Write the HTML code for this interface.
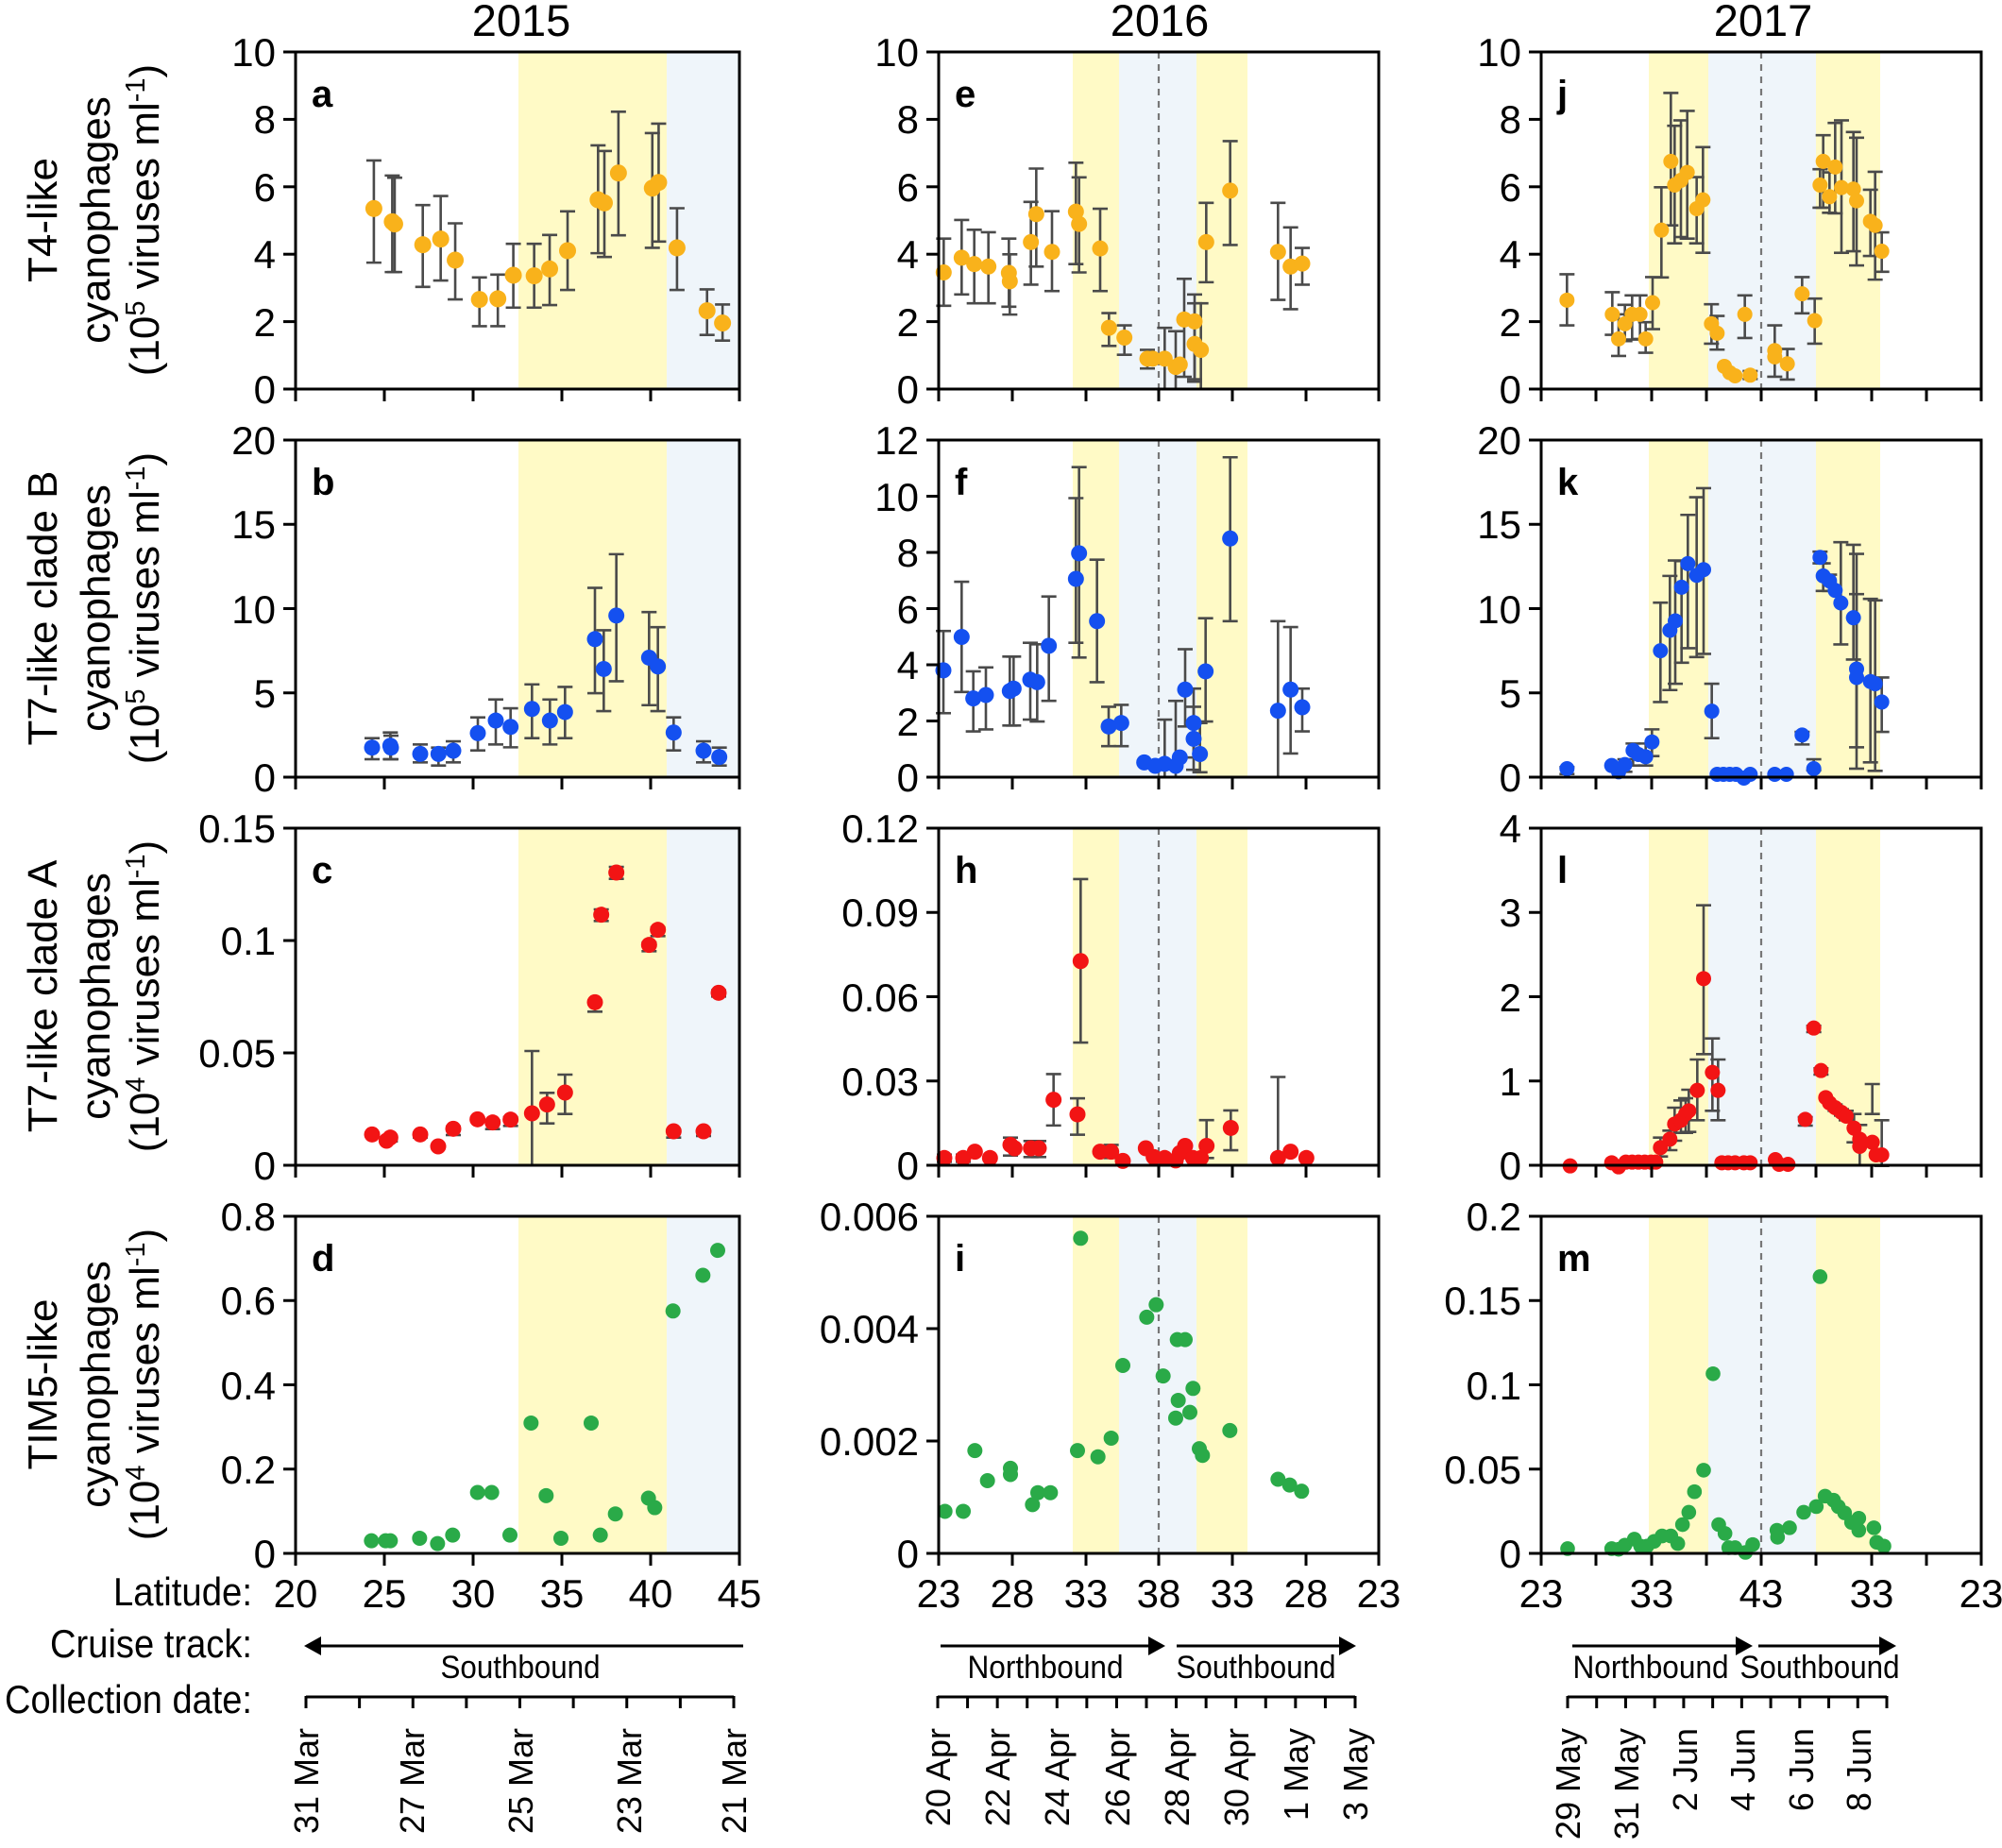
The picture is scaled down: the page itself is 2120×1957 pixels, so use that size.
<!DOCTYPE html>
<html><head><meta charset="utf-8"><style>
html,body{margin:0;padding:0;background:#fff}
svg{display:block;font-family:"Liberation Sans",Arial,sans-serif}
</style></head><body>
<svg id="s" xmlns="http://www.w3.org/2000/svg" width="2120" height="1957" viewBox="0 0 2120 1957">
<rect width="2120" height="1957" fill="#fff"/>
<g id="bg"></g>
<g id="data"></g>
<g id="ax"></g>
<g font-size="47" text-anchor="middle" fill="#000">
<text x="552" y="38">2015</text><text x="1228" y="38">2016</text><text x="1867" y="38">2017</text>
</g>
<g font-size="40" font-weight="bold" fill="#000">
<text x="330" y="113">a</text><text x="330" y="524">b</text><text x="330" y="935">c</text><text x="330" y="1346">d</text>
<text x="1011" y="113">e</text><text x="1011" y="524">f</text><text x="1011" y="935">h</text><text x="1011" y="1346">i</text>
<text x="1649" y="113">j</text><text x="1649" y="524">k</text><text x="1649" y="935">l</text><text x="1649" y="1346">m</text>
</g>
<g font-size="42" text-anchor="end" fill="#000">
<text x="292" y="427">0</text><text x="292" y="356">2</text><text x="292" y="284">4</text><text x="292" y="213">6</text><text x="292" y="141">8</text><text x="292" y="70">10</text>
<text x="973" y="427">0</text><text x="973" y="356">2</text><text x="973" y="284">4</text><text x="973" y="213">6</text><text x="973" y="141">8</text><text x="973" y="70">10</text>
<text x="1611" y="427">0</text><text x="1611" y="356">2</text><text x="1611" y="284">4</text><text x="1611" y="213">6</text><text x="1611" y="141">8</text><text x="1611" y="70">10</text>
<text x="292" y="838">0</text><text x="292" y="749">5</text><text x="292" y="660">10</text><text x="292" y="570">15</text><text x="292" y="481">20</text>
<text x="973" y="838">0</text><text x="973" y="779">2</text><text x="973" y="719">4</text><text x="973" y="660">6</text><text x="973" y="600">8</text><text x="973" y="541">10</text><text x="973" y="481">12</text>
<text x="1611" y="838">0</text><text x="1611" y="749">5</text><text x="1611" y="660">10</text><text x="1611" y="570">15</text><text x="1611" y="481">20</text>
<text x="292" y="1249">0</text><text x="292" y="1130">0.05</text><text x="292" y="1011">0.1</text><text x="292" y="892">0.15</text>
<text x="973" y="1249">0</text><text x="973" y="1160">0.03</text><text x="973" y="1071">0.06</text><text x="973" y="981">0.09</text><text x="973" y="892">0.12</text>
<text x="1611" y="1249">0</text><text x="1611" y="1160">1</text><text x="1611" y="1071">2</text><text x="1611" y="981">3</text><text x="1611" y="892">4</text>
<text x="292" y="1660">0</text><text x="292" y="1571">0.2</text><text x="292" y="1482">0.4</text><text x="292" y="1392">0.6</text><text x="292" y="1303">0.8</text>
<text x="973" y="1660">0</text><text x="973" y="1541">0.002</text><text x="973" y="1422">0.004</text><text x="973" y="1303">0.006</text>
<text x="1611" y="1660">0</text><text x="1611" y="1571">0.05</text><text x="1611" y="1482">0.1</text><text x="1611" y="1392">0.15</text><text x="1611" y="1303">0.2</text>
</g>
<g font-size="44" text-anchor="middle" fill="#000">
<g transform="translate(0,233) rotate(-90)"><text x="0" y="60">T4-like</text><text x="0" y="116">cyanophages</text><text x="0" y="168">(10<tspan font-size="29" dy="-15">5</tspan><tspan dy="15"> viruses ml</tspan><tspan font-size="29" dy="-15">-1</tspan><tspan dy="15">)</tspan></text></g>
<g transform="translate(0,644) rotate(-90)"><text x="0" y="60">T7-like clade B</text><text x="0" y="116">cyanophages</text><text x="0" y="168">(10<tspan font-size="29" dy="-15">5</tspan><tspan dy="15"> viruses ml</tspan><tspan font-size="29" dy="-15">-1</tspan><tspan dy="15">)</tspan></text></g>
<g transform="translate(0,1055) rotate(-90)"><text x="0" y="60">T7-like clade A</text><text x="0" y="116">cyanophages</text><text x="0" y="168">(10<tspan font-size="29" dy="-15">4</tspan><tspan dy="15"> viruses ml</tspan><tspan font-size="29" dy="-15">-1</tspan><tspan dy="15">)</tspan></text></g>
<g transform="translate(0,1466) rotate(-90)"><text x="0" y="60">TIM5-like</text><text x="0" y="116">cyanophages</text><text x="0" y="168">(10<tspan font-size="29" dy="-15">4</tspan><tspan dy="15"> viruses ml</tspan><tspan font-size="29" dy="-15">-1</tspan><tspan dy="15">)</tspan></text></g>
</g>
<g font-size="42" text-anchor="middle" fill="#000">
<text x="313" y="1702">20</text><text x="407" y="1702">25</text><text x="501" y="1702">30</text><text x="595" y="1702">35</text><text x="689" y="1702">40</text><text x="783" y="1702">45</text>
<text x="994" y="1702">23</text><text x="1072" y="1702">28</text><text x="1150" y="1702">33</text><text x="1227" y="1702">38</text><text x="1305" y="1702">33</text><text x="1383" y="1702">28</text><text x="1460" y="1702">23</text>
<text x="1632" y="1702">23</text><text x="1749" y="1702">33</text><text x="1865" y="1702">43</text><text x="1982" y="1702">33</text><text x="2098" y="1702">23</text>
</g>
<g font-size="42" text-anchor="end" fill="#000">
<text x="267" y="1700" textLength="147" lengthAdjust="spacingAndGlyphs">Latitude:</text>
<text x="267" y="1755" textLength="214" lengthAdjust="spacingAndGlyphs">Cruise track:</text>
<text x="267" y="1814" textLength="262" lengthAdjust="spacingAndGlyphs">Collection date:</text>
</g>
<g font-size="34" text-anchor="middle" fill="#000">
<text x="551" y="1777" textLength="169" lengthAdjust="spacingAndGlyphs">Southbound</text>
<text x="1107" y="1777" textLength="165" lengthAdjust="spacingAndGlyphs">Northbound</text>
<text x="1330" y="1777" textLength="169" lengthAdjust="spacingAndGlyphs">Southbound</text>
<text x="1748" y="1777" textLength="165" lengthAdjust="spacingAndGlyphs">Northbound</text>
<text x="1927" y="1777" textLength="169" lengthAdjust="spacingAndGlyphs">Southbound</text>
</g>
<g stroke="#000" stroke-width="3" fill="none">
<line x1="338" y1="1743" x2="787" y2="1743"/>
<line x1="996" y1="1743" x2="1218" y2="1743"/><line x1="1246" y1="1743" x2="1420" y2="1743"/>
<line x1="1665" y1="1743" x2="1840" y2="1743"/><line x1="1862" y1="1743" x2="1992" y2="1743"/>
</g>
<g fill="#000">
<polygon points="322,1743 340,1733 340,1753"/>
<polygon points="1234,1743 1216,1733 1216,1753"/><polygon points="1436,1743 1418,1733 1418,1753"/>
<polygon points="1856,1743 1838,1733 1838,1753"/><polygon points="2008,1743 1990,1733 1990,1753"/>
</g>
<g id="dates" stroke="#000" stroke-width="3"></g>
<g font-size="36" text-anchor="end" fill="#000">
<text transform="translate(337,1830) rotate(-90)">31 Mar</text>
<text transform="translate(449,1830) rotate(-90)">27 Mar</text>
<text transform="translate(564,1830) rotate(-90)">25 Mar</text>
<text transform="translate(679,1830) rotate(-90)">23 Mar</text>
<text transform="translate(790,1830) rotate(-90)">21 Mar</text>
<text transform="translate(1006,1830) rotate(-90)">20 Apr</text>
<text transform="translate(1069,1830) rotate(-90)">22 Apr</text>
<text transform="translate(1132,1830) rotate(-90)">24 Apr</text>
<text transform="translate(1196,1830) rotate(-90)">26 Apr</text>
<text transform="translate(1259,1830) rotate(-90)">28 Apr</text>
<text transform="translate(1322,1830) rotate(-90)">30 Apr</text>
<text transform="translate(1385,1830) rotate(-90)">1 May</text>
<text transform="translate(1448,1830) rotate(-90)">3 May</text>
<text transform="translate(1673,1830) rotate(-90)">29 May</text>
<text transform="translate(1735,1830) rotate(-90)">31 May</text>
<text transform="translate(1797,1830) rotate(-90)">2 Jun</text>
<text transform="translate(1858,1830) rotate(-90)">4 Jun</text>
<text transform="translate(1920,1830) rotate(-90)">6 Jun</text>
<text transform="translate(1981,1830) rotate(-90)">8 Jun</text>
</g>
</svg>
<script>
(function(){
var NS="http://www.w3.org/2000/svg";
function el(par,tag,a){var e=document.createElementNS(NS,tag);for(var k in a)e.setAttribute(k,a[k]);par.appendChild(e);return e;}
var bg=document.getElementById('bg'),dg=document.getElementById('data'),ax=document.getElementById('ax'),dt=document.getElementById('dates');
var R=[[55,412],[466,823],[877,1234],[1288,1645]];
var C=[[313,783],[994,1460],[1632,2098]];
var YL='#FFFAC6',BL='#EFF5FA';
var bands=[[[549,706,YL],[706,783,BL]],[[1136,1185,YL],[1185,1267,BL],[1267,1321,YL]],[[1746,1809,YL],[1809,1923,BL],[1923,1991,YL]]];
for(var r=0;r<4;r++)for(var c=0;c<3;c++){bands[c].forEach(function(b){el(bg,'rect',{x:b[0],y:R[r][0],width:b[1]-b[0],height:R[r][1]-R[r][0],fill:b[2]});});
 if(c>0){var dx=c==1?1227:1865;el(bg,'line',{x1:dx,y1:R[r][0],x2:dx,y2:R[r][1],stroke:'#777','stroke-width':2.2,'stroke-dasharray':'7,6'});}}
var nY=[[5,5,5],[4,6,4],[3,4,4],[4,3,4]];
var xT=[[313,407,501,595,689,783],[994,1072,1150,1227,1305,1383,1460],[1632,1690,1749,1807,1865,1923,1982,2040,2098]];
for(var r=0;r<4;r++)for(var c=0;c<3;c++){
 var x0=C[c][0],x1=C[c][1],y0=R[r][0],y1=R[r][1];
 el(ax,'rect',{x:x0,y:y0,width:x1-x0,height:y1-y0,fill:'none',stroke:'#000','stroke-width':3});
 var n=nY[r][c];for(var i=0;i<=n;i++){var y=y1-(y1-y0)*i/n;el(ax,'line',{x1:x0-13,y1:y,x2:x0,y2:y,stroke:'#000','stroke-width':3});}
 xT[c].forEach(function(x){el(ax,'line',{x1:x,y1:y1,x2:x,y2:y1+13,stroke:'#000','stroke-width':3});});
}
function dax(a,b,n){el(dt,'line',{x1:a,y1:1797,x2:b,y2:1797});for(var i=0;i<n;i++){var x=a+(b-a)*i/(n-1);el(dt,'line',{x1:x,y1:1796,x2:x,y2:1809});}}
dax(324,777,9);dax(993,1435,15);dax(1660,1998,12);
var OR='#F9B21B',BU='#1450F0',RD='#F21414',GR='#2AAA48';
var P=[
{r:0,ox:0,sx:800/1560,ft:165,fb:1237,col:OR,rad:8,d:[[772,663,510,835],[810,705,558,865],[815,712,565,865],[873,778,652,912],[910,760,623,892],[940,827,710,952],[990,952,882,1037],[1028,950,873,1037],[1060,875,775,978],[1103,877,775,978],[1135,855,747,970],[1172,797,672,922],[1235,635,462,805],[1248,645,480,817],[1277,550,355,748],[1347,598,423,788],[1360,580,393,768],[1398,788,662,922],[1460,988,920,1065],[1492,1027,968,1083]]},
{r:1,ox:300,sx:1/3,ft:50,fb:1122,col:BU,rad:7.5,d:[[282,1028,998,1065],[340,1022,980,1065],[342,1028,990,1065],[435,1048,1018,1075],[493,1048,1028,1085],[540,1038,1008,1075],[618,982,932,1037],[675,942,875,1018],[722,962,903,1027],[790,905,827,998],[847,942,875,1018],[895,915,835,998],[990,683,520,855],[1018,778,655,912],[1058,608,413,817],[1162,742,597,893],[1190,770,645,912],[1240,980,932,1037],[1335,1038,1008,1075],[1385,1058,1028,1085]]},
{r:2,ox:300,sx:1/3,ft:57,fb:1128,col:RD,rad:7.5,d:[[282,1030],[328,1050,1040,1052],[340,1040,1035,1052],[435,1030,1025,1040],[492,1068],[540,1012,1005,1032],[617,982],[665,992,985,1013],[722,983,975,1003],[790,963,765,1128],[838,935,898,995],[895,897,840,965],[990,610,605,640],[1010,332,315,352],[1058,198,180,218],[1162,428,420,448],[1190,380,372,400],[1240,1020,1015,1040],[1335,1020,1015,1035],[1383,580,572,592]]},
{r:3,ox:300,sx:1/3,ft:55,fb:1123,col:GR,rad:7,d:[[280,1083],[325,1083],[340,1083],[433,1075],[490,1092],[538,1065],[617,930],[662,930],[720,1065],[787,710],[835,940],[882,1075],[978,710],[1007,1065],[1055,998],[1160,948],[1180,978],[1238,355],[1333,242],[1380,163]]},
{r:0,ox:980,sx:1/3,ft:42,fb:730,col:OR,rad:7.5,d:[[58,492,423,560],[115,462,385,537],[155,475,405,555],[200,480,410,555],[265,493,423,562],[268,510,455,578],[335,430,348,517],[352,373,280,480],[402,450,367,530],[478,368,268,475],[488,393,298,492],[555,443,362,530],[583,605,575,642],[632,625,600,660],[705,668,650,688],[722,668],[760,668,605,730],[795,685,612,730],[808,680],[822,588,505,705],[855,592,537,710],[855,638,555,715],[875,650,555,730],[892,430,350,512],[968,325,224,436],[1120,450,350,548],[1160,480,400,567],[1197,474,442,517]]},
{r:1,ox:980,sx:1/3,ft:850,fb:1535,col:BU,rad:7.5,d:[[57,1318,1238,1405],[115,1250,1138,1362],[152,1375,1320,1442],[192,1368,1312,1438],[268,1360,1290,1430],[280,1355,1290,1430],[333,1337,1262,1418],[355,1342,1265,1422],[392,1268,1168,1380],[478,1132,968,1262],[488,1080,905,1292],[545,1218,1093,1342],[582,1432,1392,1472],[622,1425,1388,1472],[695,1505],[730,1512],[760,1508,1418,1535],[795,1512,1380,1535],[808,1495],[825,1357,1275,1432],[852,1425,1355,1495],[852,1457,1392,1520],[872,1488,1425,1525],[890,1320,1212,1422],[968,1050,885,1218],[1120,1400,1218,1535],[1160,1357,1230,1487],[1197,1393,1355,1442]]},
{r:2,ox:980,sx:1/3,ft:30,fb:725,col:RD,rad:7.5,d:[[60,710,703,718],[120,710,703,718],[157,697],[205,710],[270,683,668,705],[283,690],[335,690,675,708],[360,690,675,708],[407,590,537,643],[483,620,587,662],[493,304,135,472],[555,697],[590,697,683,710],[627,716],[700,690],[725,708],[760,710],[795,715],[808,700],[825,685],[850,710],[875,710],[893,685,632,710],[970,648,612,694],[1120,710,543,710],[1160,697],[1210,710]]},
{r:3,ox:980,sx:1/3,ft:830,fb:1535,col:GR,rad:7,d:[[62,1447],[120,1447],[157,1320],[197,1383],[270,1357],[270,1370],[340,1433],[357,1408],[397,1408],[483,1320],[493,876],[548,1333],[590,1294],[627,1142],[703,1041],[733,1015],[755,1164],[800,1088],[825,1088],[803,1215],[850,1190],[795,1252],[840,1240],[870,1316],[880,1330],[967,1278],[1120,1380],[1157,1392],[1195,1405]]},
{r:0,ox:1600,sx:1/3,ft:168,fb:1237,col:OR,rad:7,d:[[178,955,873,1035],[322,1000,930,1065],[342,1078,1000,1132],[362,1030,970,1085],[385,1000,940,1080],[410,1000,940,1078],[428,1078,1025,1122],[450,963,882,1047],[478,733,597,883],[508,515,298,718],[520,590,402,775],[540,575,385,755],[560,550,355,760],[590,665,565,775],[610,637,470,805],[637,1030,968,1093],[655,1060,1005,1112],[678,1165],[695,1185],[712,1195],[743,1000,940,1075],[760,1193,1180,1205],[838,1115,1035,1198],[838,1135],[878,1157,1110,1207],[925,935,882,997],[965,1020,950,1093],[982,590,540,662],[992,515,432,662],[1012,627,550,678],[1030,533,393,680],[1050,598,385,805],[1088,603,422,800],[1098,640,440,845],[1142,705,605,815],[1157,718,548,890],[1178,800,740,865]]},
{r:1,ox:1600,sx:1/3,ft:50,fb:1122,col:BU,rad:7,d:[[178,1095,1090,1112],[320,1085],[342,1105],[362,1082,1065,1105],[388,1037,1015,1085],[405,1050],[428,1057,1015,1085],[448,1010,970,1055],[475,720,567,883],[505,655,482,845],[522,625,433,825],[542,518,435,758],[562,443,288,712],[590,480,232,740],[612,462,203,730],[638,912,825,998],[655,1113],[675,1113],[695,1113],[715,1113],[740,1125],[760,1113],[838,1113],[875,1113],[925,988,978,1018],[962,1095,1065,1100],[982,423,405,442],[992,482,442,530],[1012,498,478,530],[1030,528],[1048,568,375,700],[1088,615,383,748],[1098,778,412,1027],[1098,805,540,1095],[1142,818,555,1075],[1157,825,560,1102],[1178,883,805,978]]},
{r:2,ox:1600,sx:1/3,ft:57,fb:1128,col:RD,rad:7,d:[[188,1130],[320,1120],[342,1133],[365,1118],[385,1118],[405,1118],[425,1118],[445,1118],[460,1118],[475,1072,1040,1100],[505,1045,1018,1080],[520,997,945,1050],[540,985,922,1025],[555,965,915,1025],[565,955,888,1022],[592,890,792,985],[612,535,302,775],[640,833,725,955],[658,890,792,985],[670,1120],[690,1120],[712,1120],[740,1120],[760,1120],[840,1110],[852,1125],[880,1125],[935,982,975,1002],[962,692,685,705],[985,827,820,840],[1000,913],[1012,930],[1030,945,935,955],[1050,960,950,970],[1065,972,955,985],[1090,1010,965,1055],[1108,1045,1000,1128],[1108,1068],[1148,1055,870,965],[1160,1095],[1178,1095,985,1130]]},
{r:3,ox:1600,sx:1/3,ft:57,fb:1123,col:GR,rad:6.8,d:[[180,1108],[320,1108],[342,1110],[362,1097],[392,1078],[412,1100],[432,1100],[455,1085],[480,1068],[508,1068],[530,1092],[545,1032],[565,993],[583,928],[612,860],[642,555],[660,1032],[680,1060],[692,1105],[712,1105],[745,1120],[768,1095],[845,1050],[847,1072],[885,1042],[930,993],[970,975],[982,248],[998,942],[1025,955],[1040,975],[1060,995],[1082,1025],[1105,1012],[1105,1050],[1153,1042],[1162,1088],[1185,1100]]}
];
var eg=el(dg,'g',{stroke:'#4a4a4a','stroke-width':2.6,fill:'none'});var pg=el(dg,'g',{});
P.forEach(function(p){var t=R[p.r][0],b=R[p.r][1];
 function X(f){return p.ox+f*p.sx;} function Y(f){return t+(f-p.ft)/(p.fb-p.ft)*(b-t);}
 p.d.forEach(function(q){var x=X(q[0]);
  if(q.length>2){var ya=Y(q[2]),yb=Y(q[3]);el(eg,'line',{x1:x,y1:ya,x2:x,y2:yb});el(eg,'line',{x1:x-8,y1:ya,x2:x+8,y2:ya});el(eg,'line',{x1:x-8,y1:yb,x2:x+8,y2:yb});}
 });
 p.d.forEach(function(q){el(pg,'circle',{cx:X(q[0]),cy:Y(q[1]),r:p.rad+1,fill:p.col});});
});
})();
</script>
</body></html>
